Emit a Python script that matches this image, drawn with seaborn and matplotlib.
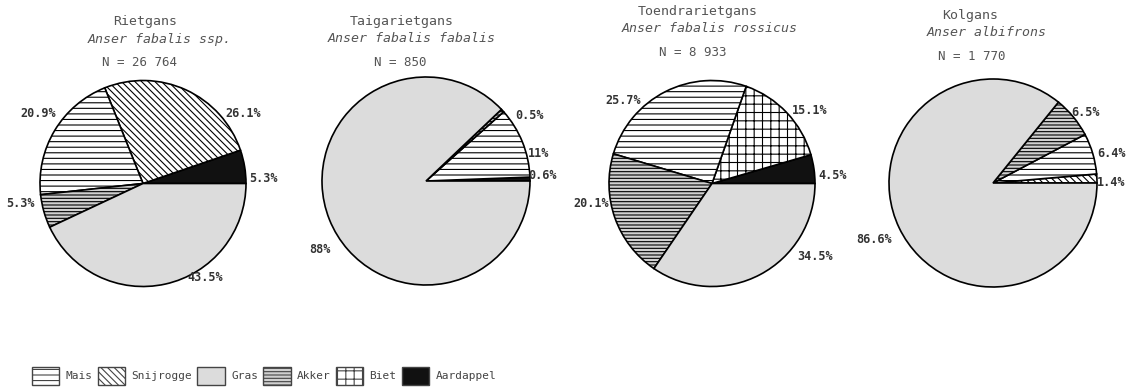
import matplotlib
matplotlib.use('Agg')
import matplotlib.pyplot as plt
import seaborn as sns
from matplotlib.patches import Patch

# data
categories = ['Mais', 'Snijrogge', 'Gras', 'Akker', 'Biet', 'Aardappel']
species = ['Rietgans', 'Taigarietgans', 'Toendrarietgans', 'Kolgans']
latin = ['Anser fabalis ssp.', 'Anser fabalis fabalis', 'Anser fabalis rossicus', 'Anser albifrons']
n_text = ['N = 26 764', 'N = 850', 'N = 8 933', 'N = 1 770']

rietgans_cats = ['Aardappel', 'Snijrogge', 'Mais', 'Akker', 'Gras']
rietgans_vals = [5.3, 26.1, 20.9, 5.3, 43.5]
taiga_cats = ['Aardappel', 'Mais', 'Akker', 'Gras']
taiga_vals = [0.6, 11, 0.5, 88]
toendra_cats = ['Aardappel', 'Biet', 'Mais', 'Akker', 'Gras']
toendra_vals = [4.5, 15.1, 25.7, 20.1, 34.5]
kolgans_cats = ['Snijrogge', 'Mais', 'Akker', 'Gras']
kolgans_vals = [1.4, 6.4, 6.5, 86.6]

pie_cats = [rietgans_cats, taiga_cats, toendra_cats, kolgans_cats]
pie_vals = [rietgans_vals, taiga_vals, toendra_vals, kolgans_vals]

# layout (pixels / radius units)
W, H = 1136, 390
centers = [(143, 183.5, 103), (426, 181, 104), (712, 183.5, 103), (993, 183, 104)]
title_pos = [(145, 22, 160, 39, 140, 62), (402, 22, 412, 38, 400, 62),
             (698, 12, 710, 28, 693, 52), (970, 15, 987, 32, 972, 56)]
label_pos = [
    [(1.17, 0.05), (0.97, 0.68), (-1.02, 0.68), (-1.19, -0.19), (0.60, -0.91)],
    [(1.12, 0.05), (1.08, 0.26), (1.0, 0.63), (-1.02, -0.66)],
    [(1.17, 0.08), (0.95, 0.71), (-0.86, 0.81), (-1.17, -0.19), (1.0, -0.71)],
    [(1.14, 0.0), (1.14, 0.28), (0.89, 0.68), (-1.14, -0.54)],
]

styles = {
    'Mais': ('white', '---'),
    'Snijrogge': ('white', '\\' * 5),
    'Gras': ('#dcdcdc', ''),
    'Akker': ('#d0d0d0', '-----'),
    'Biet': ('white', '++'),
    'Aardappel': ('#111111', ''),
}

sns.set_style('white')
plt.rcParams['font.family'] = ['DejaVu Sans Mono']
plt.rcParams['hatch.linewidth'] = 0.8

fig = plt.figure(figsize=(W / 100, H / 100), dpi=100)

for i in range(4):
    cx, cy, r = centers[i]
    ax = fig.add_axes([(cx - r) / W, (H - cy - r) / H, 2 * r / W, 2 * r / H])
    cats = pie_cats[i]
    vals = pie_vals[i]
    wedges, _ = ax.pie(vals, startangle=0, counterclock=True,
                       colors=[styles[c][0] for c in cats],
                       wedgeprops=dict(edgecolor='black', linewidth=1.2))
    for w, c in zip(wedges, cats):
        w.set_hatch(styles[c][1])
        w.set_clip_on(False)
    ax.set_xlim(-1, 1)
    ax.set_ylim(-1, 1)
    for v, (lx, ly) in zip(vals, label_pos[i]):
        ax.text(lx, ly, f'{v:g}%', ha='center', va='center', fontsize=8.5,
                color='#333333', fontweight='bold')

    tx, ty, lx, ly, nx, ny = title_pos[i]
    fig.text(tx / W, 1 - ty / H, species[i], ha='center', va='center',
             fontsize=9.5, color='#555555')
    fig.text(lx / W, 1 - ly / H, latin[i], ha='center', va='center',
             fontsize=9.5, color='#555555', style='italic')
    fig.text(nx / W, 1 - ny / H, n_text[i], ha='center', va='center',
             fontsize=9, color='#555555')

handles = [Patch(facecolor=styles[c][0], hatch=styles[c][1], edgecolor='#444444',
                 linewidth=1) for c in categories]
fig.legend(handles, categories, loc='center left', bbox_to_anchor=(0.022, 1 - 376 / H),
           ncol=6, frameon=False, handlelength=2.5, handleheight=2.2,
           handletextpad=0.55, columnspacing=0.45, fontsize=8, labelcolor='#444444',
           borderpad=0.1)

fig.savefig('out.png', dpi=100)
